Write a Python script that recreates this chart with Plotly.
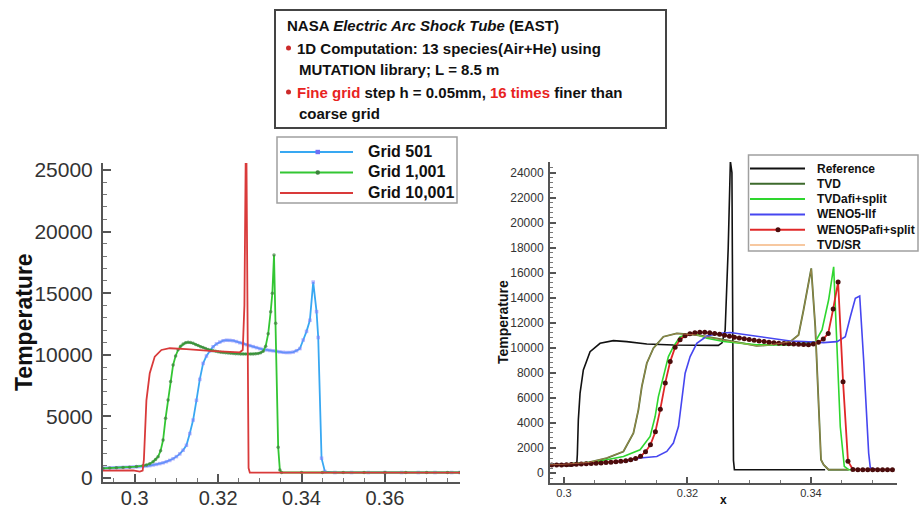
import plotly.graph_objects as go

FONT = "Liberation Sans"
W, H = 919, 508

# ---------------- Left panel data (grid study) ----------------
g501_x = [0.2924, 0.2932, 0.2940, 0.2948, 0.2956, 0.2964, 0.2972, 0.2980, 0.2988, 0.2996,
          0.3004, 0.3012, 0.3020, 0.3028, 0.3036, 0.3044, 0.3052, 0.3060, 0.3068, 0.3076,
          0.3084, 0.3092, 0.3100, 0.3108, 0.3116, 0.3124, 0.3132, 0.3140, 0.3148, 0.3156,
          0.3164, 0.3172, 0.3180, 0.3188, 0.3196, 0.3204, 0.3212, 0.3220, 0.3228, 0.3236,
          0.3244, 0.3252, 0.3260, 0.3268, 0.3276, 0.3284, 0.3292, 0.3300, 0.3308, 0.3316,
          0.3324, 0.3332, 0.3340, 0.3348, 0.3356, 0.3364, 0.3372, 0.3380, 0.3388, 0.3396,
          0.3404, 0.3412, 0.3420, 0.3428, 0.3436, 0.3440, 0.3448, 0.3456,
          0.3480, 0.3520, 0.3560, 0.3600, 0.3640, 0.3680, 0.3720, 0.3760, 0.3780]
g501_T = [790, 800, 810, 820, 830, 840, 850, 860, 875, 890,
          905, 920, 940, 965, 1000, 1050, 1100, 1160, 1230, 1320,
          1420, 1560, 1730, 1950, 2250, 2650, 3600, 4700, 6300, 8000,
          9300, 9900, 10300, 10650, 10880, 11030, 11140, 11180, 11170, 11140,
          11070, 10980, 10900, 10820, 10740, 10660, 10580, 10500, 10440, 10390,
          10350, 10320, 10270, 10230, 10200, 10180, 10180, 10220, 10330, 10500,
          11200, 11900, 12800, 15900, 13500, 11400, 1600, 520,
          440, 440, 440, 440, 440, 440, 440, 440, 440]

g1001_x = [0.2924, 0.2940, 0.2956, 0.2972, 0.2988, 0.3004, 0.3020, 0.3028, 0.3036, 0.3044,
           0.3050, 0.3056, 0.3062, 0.3068, 0.3074, 0.3080, 0.3086, 0.3092, 0.3098, 0.3104,
           0.3110, 0.3116, 0.3122, 0.3128, 0.3134, 0.3140, 0.3146, 0.3152, 0.3158, 0.3164,
           0.3170, 0.3176, 0.3182, 0.3188, 0.3194, 0.3200, 0.3206, 0.3212, 0.3218, 0.3224,
           0.3230, 0.3236, 0.3242, 0.3248, 0.3254, 0.3260, 0.3266, 0.3272, 0.3278, 0.3284,
           0.3290, 0.3296, 0.3302, 0.3308, 0.3314, 0.3320, 0.3326, 0.3330, 0.3334, 0.3338,
           0.3344, 0.3348, 0.3352,
           0.3400, 0.3450, 0.3500, 0.3550, 0.3600, 0.3650, 0.3700, 0.3750, 0.3780]
g1001_T = [780, 800, 820, 840, 870, 920, 990, 1050, 1150, 1320,
           1500, 1730, 2200, 3080, 4850, 6330, 7820, 9170, 9900, 10400,
           10700, 10880, 10980, 11010, 10990, 10930, 10840, 10750, 10660, 10580,
           10500, 10430, 10370, 10320, 10280, 10240, 10210, 10190, 10170, 10150,
           10130, 10110, 10090, 10080, 10070, 10060, 10060, 10060, 10060, 10070,
           10080, 10110, 10170, 10280, 10700, 11700, 13500, 15000, 18100, 12550,
           2500, 650, 440,
           440, 440, 440, 440, 440, 440, 440, 440, 440]

g10001_x = [0.2923, 0.2996, 0.3012, 0.3019, 0.3022, 0.3024, 0.3028, 0.3036, 0.3048, 0.3064,
            0.3084, 0.3124, 0.3180, 0.3252, 0.3259, 0.3263, 0.3266, 0.3268, 0.3271, 0.3273,
            0.3276, 0.3780]
g10001_T = [600, 620, 520, 600, 1500, 3600, 6300, 8500, 9850, 10390,
            10530, 10450, 10310, 10200, 10390, 14000, 25600, 25600, 14000, 800,
            430, 430]

# ---------------- Right panel data (scheme comparison) ----------------
ref_x = [0.2977, 0.3000, 0.3010, 0.30206, 0.30216, 0.30232, 0.3026, 0.30313, 0.30422, 0.30584,
         0.30799, 0.31016, 0.31341, 0.31772, 0.3250, 0.3256, 0.3261, 0.3266, 0.32695, 0.3272,
         0.32735, 0.32745, 0.3276, 0.3423]
ref_T = [662, 620, 560, 662, 1500, 4250, 6378, 8236, 9695, 10365,
         10572, 10493, 10309, 10229, 10200, 10400, 11400, 18000, 24900, 24000,
         12000, 1000, 266, 266]

tvd_x = [0.2977, 0.3000, 0.3040, 0.30692, 0.30962, 0.31124, 0.31205, 0.3126, 0.31341, 0.31448,
         0.3161, 0.31827, 0.32152, 0.32476, 0.3280, 0.3312, 0.3334, 0.33665, 0.33799, 0.3388,
         0.34005, 0.3407, 0.34124, 0.34163, 0.34205, 0.34286, 0.3461]
tvd_T = [660, 700, 850, 1196, 1722, 3189, 5047, 6905, 8770, 9966,
         10891, 11162, 11026, 10763, 10450, 10150, 10229, 10493, 11026, 13020,
         16345, 11690, 5047, 1060, 662, 263, 263]

tvdsr_x = [0.2977, 0.3000, 0.3040, 0.30692, 0.30962, 0.31124, 0.31205, 0.3126, 0.31341, 0.31448,
           0.3161, 0.31827, 0.32152, 0.32476, 0.3280, 0.3312, 0.3334, 0.33665, 0.33799, 0.3388,
           0.34005, 0.3407, 0.34124, 0.34163, 0.34205, 0.34286, 0.3461]
tvdsr_T = [660, 700, 850, 1200, 1730, 3200, 5060, 6920, 8780, 9970,
           10890, 11160, 11020, 10760, 10440, 10150, 10230, 10490, 11020, 13010,
           16330, 11700, 5060, 1070, 660, 263, 263]

tafi_x = [0.2977, 0.3000, 0.3050, 0.30962, 0.31232, 0.31395, 0.31476, 0.31529, 0.3161, 0.31691,
          0.31772, 0.31881, 0.32097, 0.32314, 0.32584, 0.33124, 0.33665, 0.3407, 0.34179, 0.34286,
          0.34368, 0.34422, 0.34475, 0.3454, 0.3461, 0.3472]
tafi_T = [650, 690, 880, 1324, 1858, 2918, 4513, 6107, 7702, 9297,
          10094, 10891, 11162, 10770, 10500, 10240, 10240, 10493, 11425, 13818,
          16471, 10365, 3715, 526, 263, 263]

weno_x = [0.2977, 0.3000, 0.3050, 0.3100, 0.31232, 0.31503, 0.31665, 0.31772, 0.31854, 0.31908,
          0.31962, 0.32043, 0.32151, 0.32314, 0.32529, 0.32692, 0.33124, 0.3334, 0.33665, 0.3388,
          0.34205, 0.34422, 0.34557, 0.34638, 0.34719, 0.3479, 0.34854, 0.34935, 0.34962, 0.3510]
weno_T = [650, 680, 800, 950, 1196, 1324, 1722, 2392, 3715, 5844,
          7973, 9297, 10365, 10947, 11162, 11220, 10900, 10763, 10550, 10493,
          10420, 10493, 10891, 12485, 13951, 14137, 9033, 1594, 399, 266]

w5p_x = [0.2980, 0.2988, 0.2996, 0.3004, 0.3012, 0.3020, 0.3028, 0.3036, 0.3044, 0.3052,
         0.3060, 0.3068, 0.3076, 0.3084, 0.3092, 0.3100, 0.3108, 0.3116, 0.3124, 0.3132,
         0.3140, 0.3148, 0.3156, 0.3164, 0.3172, 0.3180, 0.3188, 0.3196, 0.3204, 0.3212,
         0.3220, 0.3228, 0.3236, 0.3244, 0.3252, 0.3260, 0.3268, 0.3276, 0.3284, 0.3292,
         0.3300, 0.3308, 0.3316, 0.3324, 0.3332, 0.3340, 0.3348, 0.3356, 0.3364, 0.3372,
         0.3380, 0.3388, 0.3396, 0.3404, 0.3412, 0.3420, 0.3428, 0.3436, 0.3444, 0.3452,
         0.3460, 0.3468, 0.3476, 0.3484, 0.3492, 0.3500, 0.3508, 0.3516, 0.3524, 0.3532]
w5p_T = [640, 640, 650, 660, 680, 700, 720, 740, 760, 790,
         810, 840, 870, 900, 940, 990, 1060, 1160, 1330, 1700,
         2250, 3300, 5100, 7200, 8900, 10050, 10650, 10960, 11120, 11210,
         11240, 11240, 11200, 11150, 11080, 11000, 10920, 10850, 10790, 10720,
         10660, 10600, 10550, 10500, 10450, 10410, 10370, 10340, 10320, 10300,
         10280, 10260, 10240, 10300, 10450, 10700, 11150, 13100, 15250, 7300,
         950, 280, 270, 270, 270, 270, 270, 270, 270, 270]

# ---------------- Styles ----------------
LEFT_SERIES = [
    # name, x, y, line colour, marker symbol, marker colour
    ("Grid 501", g501_x, g501_T, "#38a8f2", "square", "rgba(130,130,255,0.6)"),
    ("Grid 1,001", g1001_x, g1001_T, "#33c633", "circle", "rgba(60,130,60,0.7)"),
    ("Grid 10,001", g10001_x, g10001_T, "#d93a3a", None, None),
]
RIGHT_SERIES = [
    ("Reference", ref_x, ref_T, "#111111", 1.6, None, None),
    ("TVD", tvd_x, tvd_T, "#3d6a2c", 1.8, None, None),
    ("TVDafi+split", tafi_x, tafi_T, "#2ed62e", 1.6, None, None),
    ("WENO5-llf", weno_x, weno_T, "#4646f0", 1.6, None, None),
    ("WENO5Pafi+split", w5p_x, w5p_T, "#e02828", 1.8, "circle", "#4a0c0c"),
    ("TVD/SR", tvdsr_x, tvdsr_T, "rgba(235,160,100,0.5)", 1.2, None, None),
]

fig = go.Figure()
for name, xs, ys, col, sym, mcol in LEFT_SERIES:
    fig.add_trace(go.Scatter(
        x=xs, y=ys, name=name, mode="lines+markers" if sym else "lines",
        line=dict(color=col, width=1.8),
        marker=dict(symbol=sym or "circle", size=3.5, color=mcol or col),
        xaxis="x", yaxis="y", showlegend=False))
for name, xs, ys, col, lw, sym, mcol in RIGHT_SERIES:
    fig.add_trace(go.Scatter(
        x=xs, y=ys, name=name, mode="lines+markers" if sym else "lines",
        line=dict(color=col, width=lw),
        marker=dict(symbol=sym or "circle", size=5, color=mcol or col),
        xaxis="x2", yaxis="y2", showlegend=False))

axcol = "#555555"
common_ax = dict(showline=True, linecolor=axcol, linewidth=2, ticks="inside",
                 tickcolor=axcol, tickwidth=2, showgrid=False, zeroline=False,
                 automargin=False)

fig.update_layout(
    width=W, height=H, margin=dict(l=0, r=0, t=0, b=0, autoexpand=False),
    paper_bgcolor="white", plot_bgcolor="white",
    font=dict(family=FONT, color="#222222"),
    showlegend=False,
    xaxis=dict(domain=[103 / W, 460 / W], range=[0.29239, 0.378], anchor="y",
               tick0=0.3, dtick=0.02, ticklen=8, ticklabelstandoff=-3,
               minor=dict(dtick=0.005, tick0=0.3, ticks="inside", ticklen=4, tickcolor="#777777", tickwidth=1),
               tickfont=dict(size=20, color="#333333"), **common_ax),
    yaxis=dict(domain=[1 - 482 / H, 1 - 163 / H], range=[-330, 25568], anchor="x",
               tick0=0, dtick=5000, ticklen=8, tickformat="d",
               minor=dict(dtick=1000, tick0=0, ticks="inside", ticklen=4, tickcolor="#777777", tickwidth=1),
               tickfont=dict(size=21, color="#333333"), ticklabelstandoff=4, **common_ax),
    xaxis2=dict(domain=[550 / W, 897 / W], range=[0.29773, 0.35394], anchor="y2",
                tick0=0.3, dtick=0.02, ticklen=6, ticklabelstandoff=-1,
                minor=dict(dtick=0.005, tick0=0.3, ticks="inside", ticklen=3, tickcolor="#777777", tickwidth=1),
                tickfont=dict(size=11, color="#333333"), **common_ax),
    yaxis2=dict(domain=[1 - 483 / H, 1 - 162 / H], range=[-797, 24845], anchor="x2",
                tick0=0, dtick=2000, ticklen=6, tickformat="d",
                minor=dict(dtick=400, tick0=0, ticks="inside", ticklen=3, tickcolor="#777777", tickwidth=1),
                tickfont=dict(size=12, color="#333333"), ticklabelstandoff=2, **common_ax),
)

annotations = []
shapes = []


def px_x(v):
    return v / W


def px_y(v):
    return 1 - v / H


# axis titles
annotations.append(dict(text="<b>Temperature</b>", x=px_x(24), y=px_y(322), xref="paper", yref="paper",
                        xanchor="center", yanchor="middle",
                        textangle=-90, showarrow=False, font=dict(family=FONT, size=23, color="#111111")))
annotations.append(dict(text="<b>Temperature</b>", x=px_x(503), y=px_y(322), xref="paper", yref="paper",
                        xanchor="center", yanchor="middle",
                        textangle=-90, showarrow=False, font=dict(family=FONT, size=14, color="#111111")))
annotations.append(dict(text="<b>x</b>", x=px_x(723), y=px_y(500), xref="paper", yref="paper",
                        xanchor="center", yanchor="middle",
                        showarrow=False, font=dict(family=FONT, size=12, color="#111111")))

# info box
box_font = dict(family=FONT, size=15, color="#111111")
info_lines = [
    (285, 25, "<b>NASA <i>Electric Arc Shock Tube</i> (EAST)</b>"),
    (295, 48, "<b>1D Computation: 13 species(Air+He) using</b>"),
    (297, 70, "<b>MUTATION library; L = 8.5 m</b>"),
    (295, 92, "<b><span style='color:#e8231f'>Fine grid</span> step h = 0.05mm, "
              "<span style='color:#e8231f'>16 times</span> finer than</b>"),
    (297, 113, "<b>coarse grid</b>"),
]
for lx, ly, txt in info_lines:
    annotations.append(dict(text=txt, x=px_x(lx), y=px_y(ly), xref="paper", yref="paper",
                            xanchor="left", yanchor="middle", showarrow=False, font=box_font))
for by in (48, 92):
    shapes.append(dict(type="circle", xref="paper", yref="paper",
                       x0=px_x(286), x1=px_x(291), y0=px_y(by + 2.5), y1=px_y(by - 2.5),
                       line=dict(width=0), fillcolor="#cc2a2a"))
shapes.append(dict(type="rect", xref="paper", yref="paper",
                   x0=px_x(275), x1=px_x(666), y0=px_y(128), y1=px_y(10),
                   line=dict(color="#444444", width=2), fillcolor="rgba(0,0,0,0)"))

# legend boxes (drawn as paper-space decorations)
shapes.append(dict(type="rect", xref="paper", yref="paper",
                   x0=px_x(277), x1=px_x(457), y0=px_y(203), y1=px_y(137),
                   line=dict(color="#a0a0a0", width=1.5), fillcolor="white", layer="above"))
shapes.append(dict(type="rect", xref="paper", yref="paper",
                   x0=px_x(748.5), x1=px_x(918), y0=px_y(251), y1=px_y(155),
                   line=dict(color="#a0a0a0", width=1.5), fillcolor="white", layer="above"))

left_rows = [152, 172.5, 193]
for (name, xs, ys, col, sym, mcol), ry in zip(LEFT_SERIES, left_rows):
    shapes.append(dict(type="line", xref="paper", yref="paper", x0=px_x(280), x1=px_x(353),
                       y0=px_y(ry), y1=px_y(ry), line=dict(color=col, width=2), layer="above"))
    if sym == "square":
        shapes.append(dict(type="rect", xref="paper", yref="paper",
                           x0=px_x(315.5), x1=px_x(320), y0=px_y(ry + 2.2), y1=px_y(ry - 2.2),
                           line=dict(width=0), fillcolor="#6f6ff5", layer="above"))
    elif sym == "circle":
        shapes.append(dict(type="circle", xref="paper", yref="paper",
                           x0=px_x(315.5), x1=px_x(320), y0=px_y(ry + 2.2), y1=px_y(ry - 2.2),
                           line=dict(width=0), fillcolor="#3c823c", layer="above"))
    annotations.append(dict(text=f"<b>{name}</b>", x=px_x(366), y=px_y(ry - 1), xref="paper", yref="paper",
                            xanchor="left", yanchor="middle", showarrow=False,
                            font=dict(family=FONT, size=16, color="#111111")))

right_rows = [168.5, 183.8, 199.1, 214.4, 229.7, 245]
for (name, xs, ys, col, lw, sym, mcol), ry in zip(RIGHT_SERIES, right_rows):
    lcol = "#f7c8a0" if name == "TVD/SR" else col
    shapes.append(dict(type="line", xref="paper", yref="paper", x0=px_x(750), x1=px_x(805),
                       y0=px_y(ry), y1=px_y(ry), line=dict(color=lcol, width=2), layer="above"))
    if sym:
        shapes.append(dict(type="circle", xref="paper", yref="paper",
                           x0=px_x(775.5), x1=px_x(780.5), y0=px_y(ry + 2.5), y1=px_y(ry - 2.5),
                           line=dict(width=0), fillcolor=mcol, layer="above"))
    annotations.append(dict(text=f"<b>{name}</b>", x=px_x(815), y=px_y(ry), xref="paper", yref="paper",
                            xanchor="left", yanchor="middle", showarrow=False,
                            font=dict(family=FONT, size=12, color="#111111")))

fig.update_layout(annotations=annotations, shapes=shapes)
fig.write_html("out.html")
